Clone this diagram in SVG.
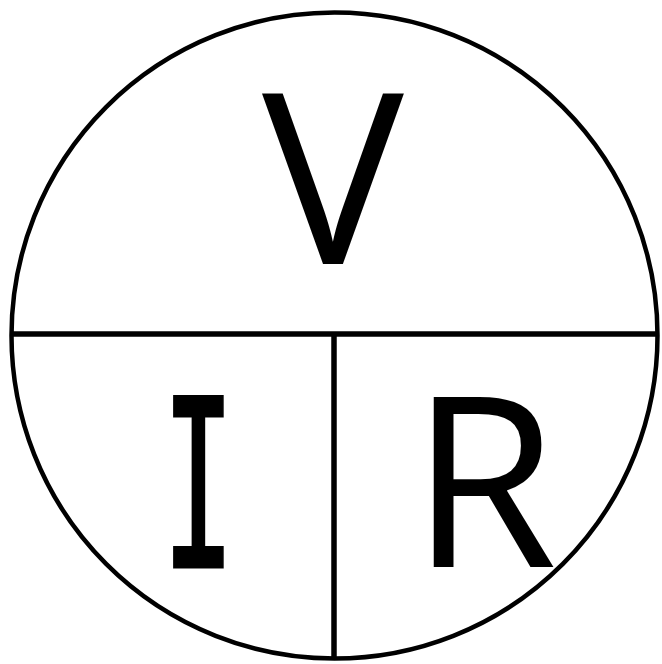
<svg xmlns="http://www.w3.org/2000/svg" width="662" height="664" viewBox="0 0 662 664">
<style>
.ln{stroke:#000;fill:none}
.t{font-family:"Open Sans","Noto Sans",sans-serif;font-size:238px;fill:#000;text-anchor:middle}
.m{font-family:"DejaVu Sans Mono",monospace;font-size:233px;fill:#000;text-anchor:middle}
</style>
<rect width="662" height="664" fill="#fff"/>
<g id="connectors">
<circle class="ln" cx="334.5" cy="335.5" r="323" stroke-width="4.5"/>
<line class="ln" x1="11" y1="334" x2="658" y2="334" stroke-width="5.5"/>
<line class="ln" x1="334" y1="334" x2="334" y2="659" stroke-width="5.5"/>
</g>
<g id="V"><text class="t" x="333" y="264">V</text></g>
<g id="I"><text class="m" transform="translate(198.5 567) scale(0.52 1)" x="0" y="0" stroke="#000" stroke-width="3">I</text></g>
<g id="R"><text class="t" x="484" y="567">R</text></g>
</svg>
